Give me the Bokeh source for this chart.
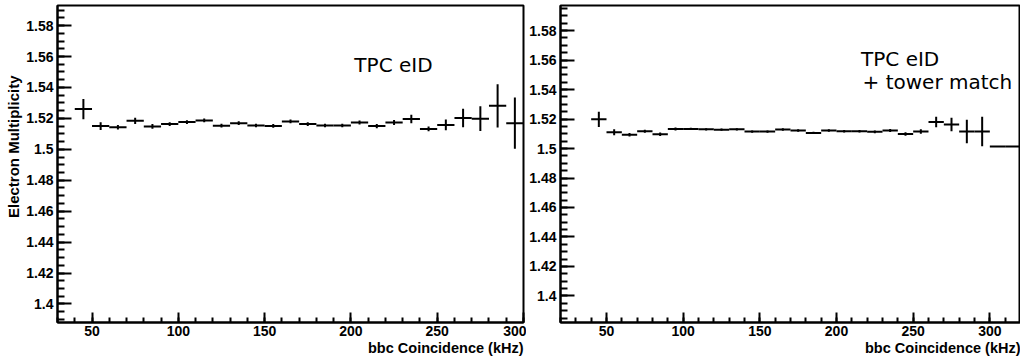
import numpy as np
from bokeh.plotting import figure
from bokeh.models import (Range1d, FixedTicker, CustomJSTickFormatter, Title,
                          Label, ColumnDataSource)
from bokeh.layouts import row
from bokeh.embed import file_html
from bokeh.resources import INLINE

# ---------------- data ----------------
bin_width = 10

x_left = [45, 55, 65, 75, 85, 95, 105, 115, 125, 135, 145, 155, 165,
          175, 185, 195, 205, 215, 225, 235, 245, 255, 265, 275, 285, 295]
mult_left = [1.5260, 1.5150, 1.5143, 1.5184, 1.5148, 1.5163, 1.5176, 1.5187,
             1.5153, 1.5169, 1.5154, 1.5151, 1.5180, 1.5163, 1.5154, 1.5154,
             1.5174, 1.5150, 1.5174, 1.5196, 1.5132, 1.5158, 1.5202, 1.5198,
             1.5281, 1.5169]
err_left = [0.0066, 0.0025, 0.0015, 0.0020, 0.0015, 0.0012, 0.0012, 0.0012,
            0.0012, 0.0012, 0.0012, 0.0012, 0.0012, 0.0012, 0.0012, 0.0012,
            0.0013, 0.0014, 0.0016, 0.0027, 0.0015, 0.0035, 0.0060, 0.0080,
            0.0140, 0.0166]

x_right = [45, 55, 65, 75, 85, 95, 105, 115, 125, 135, 145, 155, 165, 175,
           185, 195, 205, 215, 225, 235, 245, 255, 265, 275, 285, 295, 305, 315]
mult_right = [1.5198, 1.5110, 1.5094, 1.5117, 1.5097, 1.5133, 1.5133, 1.5130,
              1.5128, 1.5130, 1.5115, 1.5115, 1.5129, 1.5122, 1.5106, 1.5122,
              1.5117, 1.5117, 1.5113, 1.5122, 1.5099, 1.5115, 1.5180, 1.5163,
              1.5115, 1.5115, 1.5014, 1.5014]
err_right = [0.0052, 0.0020, 0.0012, 0.0010, 0.0012, 0.0010, 0.0008, 0.0008,
             0.0008, 0.0008, 0.0008, 0.0008, 0.0008, 0.0008, 0.0008, 0.0008,
             0.0008, 0.0008, 0.0009, 0.0010, 0.0012, 0.0015, 0.0035, 0.0046,
             0.0080, 0.0100, 0.0, 0.0]

y_tick_values = [1.40, 1.42, 1.44, 1.46, 1.48, 1.50, 1.52, 1.54, 1.56, 1.58]
x_tick_values = [50, 100, 150, 200, 250, 300]

y_title = "Electron Multiplicity"
x_title = "bbc Coincidence (kHz)"
label_left = ["TPC eID"]
label_right = ["TPC eID", "+ tower match"]

TICK_FONT = "Liberation Sans"
HEIGHT = 352


def make_panel(xs, ys, es, xr, yr, width, min_left, min_right, show_ytitle):
    p = figure(width=width, height=HEIGHT, x_range=Range1d(*xr), y_range=Range1d(*yr),
               output_backend="svg", toolbar_location=None,
               min_border_top=1, min_border_bottom=0,
               min_border_left=min_left, min_border_right=min_right)
    p.grid.visible = False
    p.background_fill_color = "white"
    p.border_fill_color = "white"
    p.outline_line_color = "black"
    p.outline_line_width = 2

    xs = np.array(xs, dtype=float)
    ys = np.array(ys, dtype=float)
    es = np.array(es, dtype=float)
    src = ColumnDataSource(dict(x=xs, y=ys, x0=xs - bin_width / 2, x1=xs + bin_width / 2,
                                lo=ys - es, hi=ys + es))
    p.segment(x0="x0", y0="y", x1="x1", y1="y", source=src,
              line_color="black", line_width=2)
    p.segment(x0="x", y0="lo", x1="x", y1="hi", source=src,
              line_color="black", line_width=2)

    xa = p.xaxis[0]
    xa.ticker = FixedTicker(ticks=x_tick_values,
                            minor_ticks=list(np.arange(0, 340, 10)))
    xa.major_tick_in = 10
    xa.major_tick_out = 0
    xa.minor_tick_in = 5
    xa.minor_tick_out = 0
    xa.axis_line_width = 2
    xa.major_tick_line_width = 2
    xa.minor_tick_line_width = 2
    xa.major_label_standoff = 3
    xa.major_label_text_font = TICK_FONT
    xa.major_label_text_font_style = "bold"
    xa.major_label_text_font_size = "14px"
    xa.major_label_text_color = "black"

    ya = p.yaxis[0]
    ya.ticker = FixedTicker(ticks=y_tick_values,
                            minor_ticks=list(np.arange(1.37, 1.61, 0.005)))
    ya.formatter = CustomJSTickFormatter(
        code="return (Math.round(tick*100)/100).toString();")
    ya.major_tick_in = 14
    ya.major_tick_out = 0
    ya.minor_tick_in = 7
    ya.minor_tick_out = 0
    ya.axis_line_width = 2
    ya.major_tick_line_width = 2
    ya.minor_tick_line_width = 2
    ya.major_label_standoff = 4
    ya.major_label_text_font = TICK_FONT
    ya.major_label_text_font_style = "bold"
    ya.major_label_text_font_size = "14px"
    ya.major_label_text_color = "black"

    t = Title(text=x_title, align="right", offset=0, standoff=0,
              vertical_align="middle",
              text_font=TICK_FONT, text_font_style="bold",
              text_font_size="14.5px", text_color="black")
    p.add_layout(t, "below")
    if show_ytitle:
        ty = Title(text=y_title, align="right", offset=70, standoff=4,
                   text_font=TICK_FONT, text_font_style="bold",
                   text_font_size="15px", text_color="black")
        p.add_layout(ty, "left")
    return p


p1 = make_panel(x_left, mult_left, err_left, (30, 300), (1.388, 1.593),
                526, 57, 3, True)
p2 = make_panel(x_right, mult_right, err_right, (20, 320), (1.382, 1.597),
                494, 34, 0, False)

p1.add_layout(Label(x=202, y=1.5548, text=label_left[0], text_font="DejaVu Sans",
                    text_font_size="20px", text_color="black",
                    text_baseline="alphabetic"))
p2.add_layout(Label(x=216, y=1.5607, text=label_right[0], text_font="DejaVu Sans",
                    text_font_size="20px", text_color="black",
                    text_baseline="alphabetic"))
p2.add_layout(Label(x=217, y=1.5448, text=label_right[1], text_font="DejaVu Sans",
                    text_font_size="20px", text_color="black",
                    text_baseline="alphabetic"))

layout = row(p1, p2, margin=(4, 0, -8, 0))
open("out.html", "w").write(file_html(layout, INLINE))
